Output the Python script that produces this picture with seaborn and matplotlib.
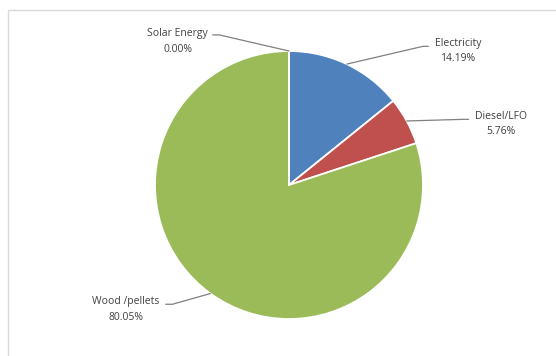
import numpy as np
import matplotlib
matplotlib.use("Agg")
import matplotlib.pyplot as plt
from matplotlib.patches import Rectangle
import seaborn as sns

# Energy mix shares (%), drawn clockwise from 12 o'clock
categories = ["Electricity", "Diesel/LFO", "Wood /pellets", "Solar Energy"]
shares = [14.19, 5.76, 80.05, 0.00]
colors = ["#4F81BD", "#C0504D", "#9BBB59", "#8064A2"]

# Label placement (data units, pie radius = 1) and leader-line elbows
label_pos = {
    "Electricity": (1.26, 1.00),
    "Diesel/LFO": (1.58, 0.455),
    "Wood /pellets": (-1.22, -0.93),
    "Solar Energy": (-0.83, 1.07),
}
elbow_pos = {
    "Electricity": (1.00, 1.035),
    "Diesel/LFO": (1.30, 0.49),
    "Wood /pellets": (-0.87, -0.89),
    "Solar Energy": (-0.52, 1.12),
}

sns.set_style("white")
plt.rcParams["font.family"] = ["Open Sans", "DejaVu Sans"]

W, H = 556, 356
fig = plt.figure(figsize=(W / 100, H / 100), dpi=100)
fig.patch.set_facecolor("white")

# Chart-area frame
fig.add_artist(Rectangle((8 / W, -0.05), 1.2, (H - 10) / H + 0.05,
                         transform=fig.transFigure, fill=False,
                         edgecolor="#D9D9D9", linewidth=1.0))

cx, cy, r = 289, 185, 134
ax = fig.add_axes([(cx - r) / W, (H - cy - r) / H, 2 * r / W, 2 * r / H])
ax.set_axis_off()

wedges, _ = ax.pie(shares, colors=colors, startangle=90, counterclock=False,
                   radius=1.0,
                   wedgeprops=dict(edgecolor="white", linewidth=1.3))
ax.set_xlim(-1, 1)
ax.set_ylim(-1, 1)

text_color = "#404040"
line_color = "#808080"
for w, name, val in zip(wedges, categories, shares):
    mid = np.deg2rad((w.theta1 + w.theta2) / 2)
    px, py = np.cos(mid), np.sin(mid)
    ex, ey = elbow_pos[name]
    lx, ly = label_pos[name]
    tail = 0.04 if lx > 0 else -0.05
    ax.plot([px, ex, ex + tail], [py, ey, ey], color=line_color,
            linewidth=0.9, clip_on=False)
    ax.text(lx, ly, f"{name}\n{val:.2f}%", ha="center", va="center",
            fontsize=7.5, color=text_color, linespacing=1.6, clip_on=False)

fig.savefig("out.png", dpi=100, facecolor="white")
